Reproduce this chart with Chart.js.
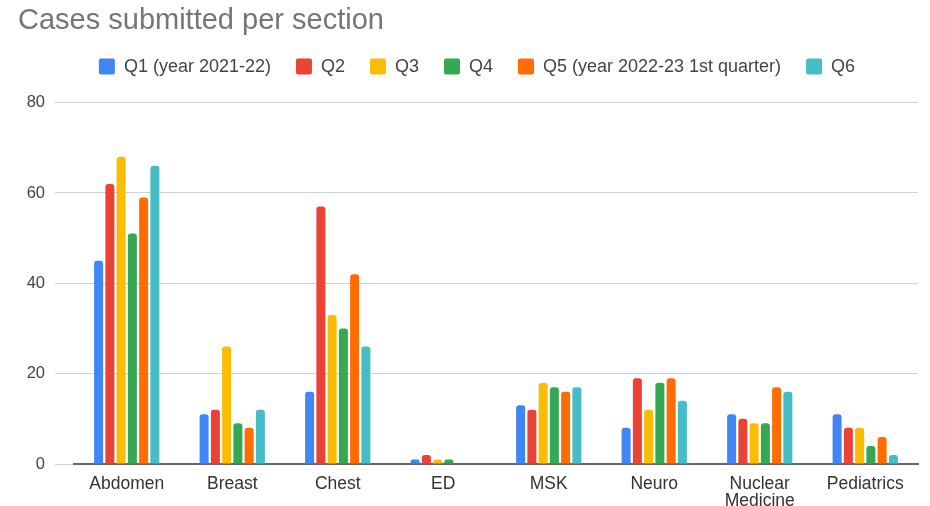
<!DOCTYPE html>
<html>
<head>
<meta charset="utf-8">
<script src="https://cdn.jsdelivr.net/npm/chart.js@4/dist/chart.umd.min.js"></script>
<style>
  html, body { margin: 0; padding: 0; background: #fff; }
  #wrap { width: 930px; height: 506px; }
</style>
</head>
<body>
<div id="wrap"><canvas id="chart"></canvas></div>
<script>
// sections on the x axis
var sections = ["Abdomen", "Breast", "Chest", "ED", "MSK", "Neuro", ["Nuclear", "Medicine"], "Pediatrics"];

// cases per quarter
var q1 = [45, 11, 16, 1, 13, 8, 11, 11];
var q2 = [62, 12, 57, 2, 12, 19, 10, 8];
var q3 = [68, 26, 33, 1, 18, 12, 9, 8];
var q4 = [51, 9, 30, 1, 17, 18, 9, 4];
var q5 = [59, 8, 42, 0, 16, 19, 17, 6];
var q6 = [66, 12, 26, 0, 17, 14, 16, 2];

var seriesNames = ["Q1 (year 2021-22)", "Q2", "Q3", "Q4", "Q5 (year 2022-23 1st quarter)", "Q6"];
var yTicks = [0, 20, 40, 60, 80];

var colores = ["#4285F4", "#EA4335", "#FBBC04", "#34A853", "#FF6D01", "#46BDC6"];
var valores = [q1, q2, q3, q4, q5, q6];

var datasets = valores.map(function (d, i) {
    return {
        label: seriesNames[i],
        data: d,
        backgroundColor: colores[i],
        borderColor: colores[i],
        borderWidth: 0,
        borderRadius: { topLeft: 3, topRight: 3 },
        borderSkipped: "bottom",
        categoryPercentage: 0.64,
        barPercentage: 0.8
    };
});

// extra room under the legend, and nudge it a bit to the right
var legendSpacing = {
    id: "legendSpacing",
    beforeInit: function (chart) {
        var fit = chart.legend.fit;
        chart.legend.fit = function () {
            fit.bind(chart.legend)();
            this.height += 17;
            if (this.lineWidths && this.lineWidths.length) {
                this.lineWidths[0] -= 18;
            }
        };
    }
};

Chart.defaults.font.family = "'Liberation Sans', Arial, sans-serif";

new Chart(document.getElementById("chart"), {
    type: "bar",
    data: { labels: sections, datasets: datasets },
    plugins: [legendSpacing],
    options: {
        responsive: true,
        maintainAspectRatio: false,
        animation: false,
        layout: { padding: { left: 18, right: 12, top: 10, bottom: 0 } },
        plugins: {
            title: {
                display: true,
                text: "Cases submitted per section",
                align: "start",
                color: "#757575",
                font: { size: 29, weight: "normal", lineHeight: 0.78 },
                padding: { top: 0, bottom: 0 }
            },
            legend: {
                display: true,
                position: "top",
                labels: {
                    color: "#444",
                    font: { size: 18 },
                    boxWidth: 16,
                    boxHeight: 16,
                    padding: 25,
                    useBorderRadius: true,
                    borderRadius: 2
                }
            },
            tooltip: { enabled: false }
        },
        scales: {
            x: {
                afterFit: function (scale) { scale.height = 42; },
                grid: { display: false },
                border: { display: true, color: "#666", width: 2 },
                ticks: { color: "#333", font: { size: 17.5, lineHeight: 1.0 }, padding: 3, maxRotation: 0, autoSkip: false }
            },
            y: {
                min: 0,
                max: 80,
                afterBuildTicks: function (scale) {
                    scale.ticks = yTicks.map(function (v) { return { value: v }; });
                },
                afterFit: function (scale) { scale.width = 56; },
                grid: { color: "#d0d0d0", lineWidth: 1, drawTicks: true, tickLength: 19 },
                border: { display: false },
                ticks: { color: "#444", font: { size: 16.5 }, padding: 10 }
            }
        }
    }
});
</script>
</body>
</html>
